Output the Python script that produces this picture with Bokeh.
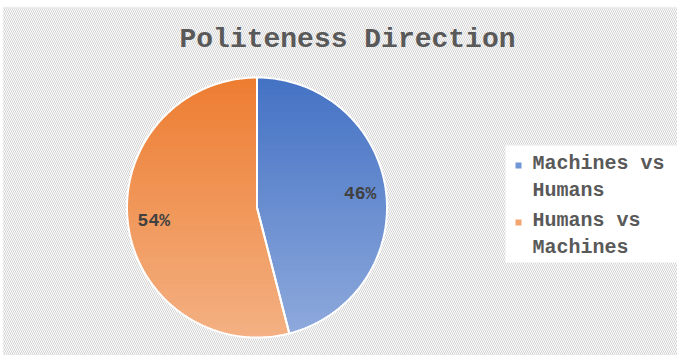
import numpy as np
from bokeh.plotting import figure
from bokeh.models import Range1d, BoxAnnotation, Label
from bokeh.embed import file_html
from bokeh.resources import INLINE
from bokeh.core.properties import value

# ---- data ----
chart_title = "Politeness Direction"
categories = ["Machines vs\nHumans", "Humans vs\nMachines"]
values = [46, 54]
top_colors = ["#4472C4", "#ED7D31"]
bottom_colors = ["#8FAADC", "#F4B183"]
legend_colors = ["#7196D6", "#F4A46E"]

# ---- layout ----
W, H = 677, 355
CX, CY, R = 256.5, 207.0, 130.0
FONT = "Liberation Mono"

p = figure(width=W, height=H, x_range=Range1d(0, W), y_range=Range1d(H, 0),
           output_backend="svg", toolbar_location=None, min_border=0)
p.axis.visible = False
p.grid.visible = False
p.outline_line_color = None
p.background_fill_color = "white"
p.border_fill_color = "white"

# hatched chart background with light border
p.add_layout(BoxAnnotation(left=3, top=7, right=W + 5, bottom=H + 5,
                           fill_color="white", fill_alpha=1.0, hatch_pattern="\\",
                           hatch_color="#cdcdcd", hatch_scale=4, hatch_weight=1,
                           hatch_alpha=0.9, line_color="#d9d9d9", line_width=1.5,
                           level="underlay"))


def hex2rgb(h):
    h = h.lstrip("#")
    return np.array([int(h[i:i + 2], 16) for i in (0, 2, 4)], dtype=float)


def rgb2hex(c):
    c = np.clip(np.round(c), 0, 255).astype(int)
    return "#%02x%02x%02x" % tuple(c)


def clip_poly(poly, y0, y1):
    def clip(pts, keep, inter):
        out = []
        n = len(pts)
        for i in range(n):
            a = pts[i]
            b = pts[(i + 1) % n]
            ka, kb = keep(a), keep(b)
            if ka:
                out.append(a)
                if not kb:
                    out.append(inter(a, b))
            elif kb:
                out.append(inter(a, b))
        return out

    def inter_at(yv):
        def f(a, b):
            t = (yv - a[1]) / (b[1] - a[1])
            return (a[0] + t * (b[0] - a[0]), yv)
        return f

    pts = clip(poly, lambda q: q[1] >= y0, inter_at(y0))
    if not pts:
        return []
    pts = clip(pts, lambda q: q[1] <= y1, inter_at(y1))
    return pts


total = float(sum(values))
fracs = [v / total for v in values]
starts = np.cumsum([0.0] + fracs[:-1])

band_xs, band_ys, band_cols = [], [], []
outline_xs, outline_ys = [], []
label_x, label_y, label_txt = [], [], []
nb = 90
edges = np.linspace(CY - R, CY + R, nb + 1)
for i, (s, f) in enumerate(zip(starts, fracs)):
    th = np.linspace(s, s + f, 200) * 2 * np.pi
    arc = [(CX + R * np.sin(t), CY - R * np.cos(t)) for t in th]
    poly = [(CX, CY)] + arc
    outline_xs.append([q[0] for q in poly])
    outline_ys.append([q[1] for q in poly])
    ctop, cbot = hex2rgb(top_colors[i]), hex2rgb(bottom_colors[i])
    for k in range(nb):
        y0, y1 = edges[k] - 0.4, edges[k + 1] + 0.4
        cp = clip_poly(poly, y0, y1)
        if len(cp) < 3:
            continue
        t = ((edges[k] + edges[k + 1]) / 2 - (CY - R)) / (2 * R)
        band_xs.append([q[0] for q in cp])
        band_ys.append([q[1] for q in cp])
        band_cols.append(rgb2hex(ctop + t * (cbot - ctop)))
    mid = (s + f / 2) * 2 * np.pi
    label_x.append(CX + 0.8 * R * np.sin(mid))
    label_y.append(CY - 0.8 * R * np.cos(mid))
    label_txt.append("%d%%" % round(f * 100))

p.patches(band_xs, band_ys, fill_color=band_cols, line_color=band_cols, line_width=0.6)
p.patches(outline_xs, outline_ys, fill_color=None, line_color="white", line_width=2)

p.text(x=label_x, y=label_y, text=label_txt, text_font=value(FONT), text_font_style="bold",
       text_font_size="18px", text_color="#404040", text_align="center",
       text_baseline="middle")

# title
p.add_layout(Label(x=347, y=38.5, text=chart_title, text_font=FONT, text_font_style="bold",
                   text_font_size="28px", text_color="#595959", text_align="center",
                   text_baseline="middle"))

# legend
p.quad(left=[505], right=[W], top=[145], bottom=[262], fill_color="white",
       line_color=None)
leg_y = [176.75, 233.5]
first_line_y = [165, 222]
p.scatter(x=[518, 518], y=first_line_y, marker="square", size=6,
          fill_color=legend_colors, line_color=None)
p.text(x=[532, 532], y=leg_y, text=categories, text_font=value(FONT),
       text_font_style="bold", text_font_size="20px", text_color="#595959",
       text_align="left", text_baseline="middle", text_line_height=1.175)

open("out.html", "w").write(file_html(p, INLINE))
